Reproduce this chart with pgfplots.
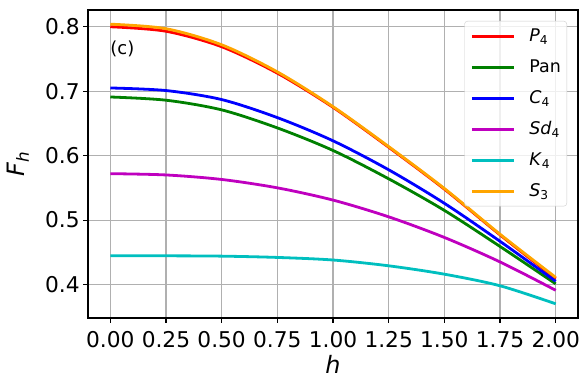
\documentclass[border=0pt]{standalone}
\usepackage{fontspec}
\setmainfont{DejaVu Sans}
\usepackage{pgfplots}
\pgfplotsset{compat=1.18}
\definecolor{cP}{HTML}{FF0000}
\definecolor{cPan}{HTML}{008000}
\definecolor{cC}{HTML}{0000FF}
\definecolor{cSd}{HTML}{BF00BF}
\definecolor{cK}{HTML}{00BFBF}
\definecolor{cS}{HTML}{FFA500}
\definecolor{gridgray}{HTML}{B0B0B0}
\definecolor{legframe}{HTML}{CCCCCC}

\begin{document}
\begin{tikzpicture}
  \begin{axis}[
      scale only axis, width=490bp, height=308bp,
      xmin=-0.1, xmax=2.1, ymin=0.348, ymax=0.826,
      xtick={0,0.25,0.5,0.75,1,1.25,1.5,1.75,2},
      ytick={0.4,0.5,0.6,0.7,0.8},
      xticklabel style={yshift=-5bp, /pgf/number format/.cd, fixed, fixed zerofill, precision=2},
      yticklabel style={/pgf/number format/.cd, fixed, fixed zerofill, precision=1},
      /pgf/number format/assume math mode=true,
      tick label style={font=\fontsize{21.8}{25}\selectfont},
      label style={font=\fontsize{24}{28}\selectfont},
      xlabel={\itshape h},
      ylabel={\itshape F\textsubscript{h}},
      xlabel style={at={(axis description cs:0.5,-0.1494)}, anchor=center},
      ylabel style={at={(axis description cs:-0.1429,0.5)}, anchor=center},
      tick pos=left, tick align=outside,
      major tick length=4.9bp,
      tick style={line width=1.1bp, black},
      axis line style={line width=1.1bp},
      grid=major, grid style={line width=1.1bp, gridgray},
      legend cell align=left,
      legend image code/.code={\draw[#1] (0bp,0bp) -- (42bp,0bp);},
      legend style={at={(1,1)}, anchor=north east, xshift=-11bp, yshift=-11bp,
        draw=legframe, rounded corners=3bp, fill=white, fill opacity=0.8, text opacity=1,
        font=\fontsize{17.5}{21}\selectfont,
        inner xsep=6bp, inner ysep=4bp, row sep=9bp,
        nodes={inner sep=0bp, text height=16bp, text depth=6bp},
        /tikz/every odd column/.style={column sep=14bp}},
    ]
    % P4
    \addplot[cP, line width=2.8bp, smooth] coordinates {
      (0,0.800) (0.25,0.793) (0.5,0.769) (0.75,0.728) (1.0,0.675)
      (1.25,0.613) (1.5,0.548) (1.75,0.477) (2.0,0.409)
    };
    \addlegendentry{\textit{P}\textsubscript{4}}
    % Pan
    \addplot[cPan, line width=2.8bp, smooth] coordinates {
      (0,0.691) (0.25,0.686) (0.5,0.671) (0.75,0.643) (1.0,0.608)
      (1.25,0.564) (1.5,0.515) (1.75,0.459) (2.0,0.401)
    };
    \addlegendentry{Pan}
    % C4
    \addplot[cC, line width=2.8bp, smooth] coordinates {
      (0,0.705) (0.25,0.701) (0.5,0.687) (0.75,0.659) (1.0,0.623)
      (1.25,0.578) (1.5,0.526) (1.75,0.467) (2.0,0.405)
    };
    \addlegendentry{\textit{C}\textsubscript{4}}
    % Sd4
    \addplot[cSd, line width=2.8bp, smooth] coordinates {
      (0,0.572) (0.25,0.570) (0.5,0.563) (0.75,0.550) (1.0,0.531)
      (1.25,0.505) (1.5,0.473) (1.75,0.435) (2.0,0.391)
    };
    \addlegendentry{\textit{Sd}\textsubscript{4}}
    % K4
    \addplot[cK, line width=2.8bp, smooth] coordinates {
      (0,0.4445) (0.25,0.4445) (0.5,0.444) (0.75,0.442) (1.0,0.438)
      (1.25,0.429) (1.5,0.416) (1.75,0.398) (2.0,0.370)
    };
    \addlegendentry{\textit{K}\textsubscript{4}}
    % S3
    \addplot[cS, line width=2.8bp, smooth] coordinates {
      (0,0.804) (0.25,0.797) (0.5,0.772) (0.75,0.730) (1.0,0.676)
      (1.25,0.614) (1.5,0.549) (1.75,0.478) (2.0,0.411)
    };
    \addlegendentry{\textit{S}\textsubscript{3}}
    \node[anchor=west, inner sep=0pt, font=\fontsize{18}{21}\selectfont] at (axis cs:0,0.765) {(c)};
  \end{axis}
  \path (-88bp,-72bp) rectangle (500bp,318bp);
\end{tikzpicture}
\end{document}
